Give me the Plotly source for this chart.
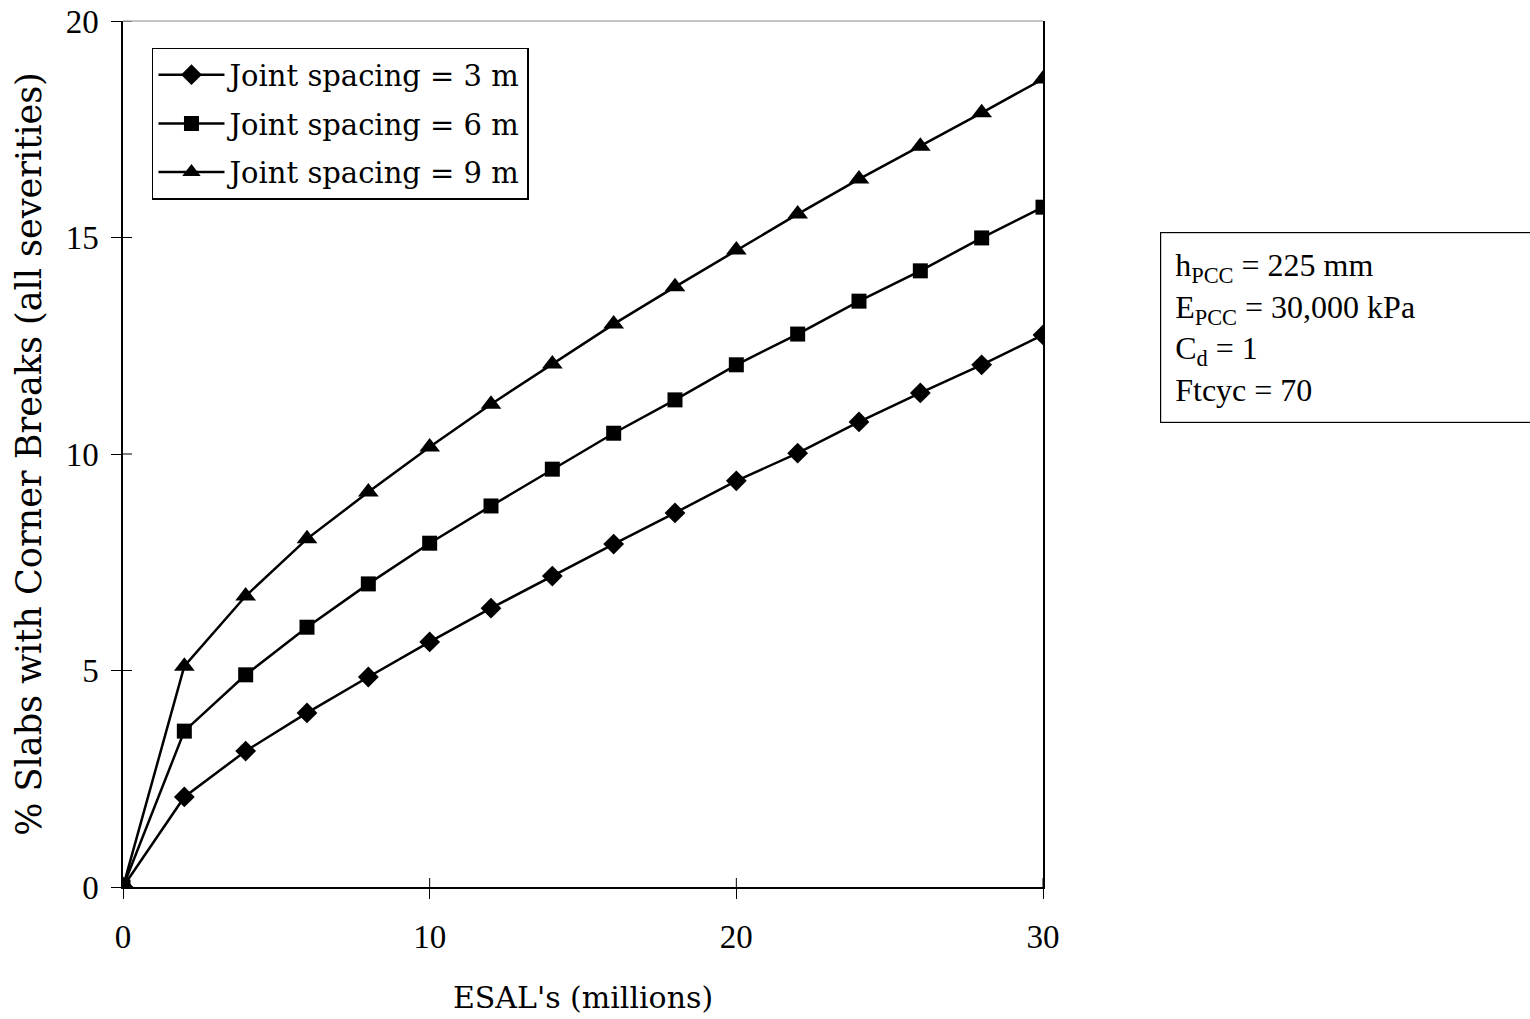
import plotly.graph_objects as go

esals = [0, 2, 4, 6, 8, 10, 12, 14, 16, 18, 20, 22, 24, 26, 28, 30]
js3 = [0, 2.08, 3.14, 4.02, 4.85, 5.66, 6.44, 7.18, 7.92, 8.64, 9.38, 10.02, 10.74, 11.41, 12.06, 12.75]
js6 = [0, 3.60, 4.90, 6.00, 7.00, 7.94, 8.80, 9.65, 10.48, 11.25, 12.06, 12.77, 13.53, 14.23, 14.99, 15.70]
js9 = [0, 5.10, 6.72, 8.04, 9.12, 10.16, 11.15, 12.08, 13.00, 13.86, 14.71, 15.54, 16.35, 17.11, 17.88, 18.66]
names = ["Joint spacing = 3 m", "Joint spacing = 6 m", "Joint spacing = 9 m"]
symbols = ["diamond", "square", "triangle-up"]
sizes = [16, 15, 18]
xticks = [0, 10, 20, 30]
yticks = [0, 5, 10, 15, 20]
note_lines = ["h<sub>PCC</sub> = 225 mm", "E<sub>PCC</sub> = 30,000 kPa", "C<sub>d</sub> = 1", "Ftcyc = 70"]

serif = "Liberation Serif, Times New Roman, serif"
wide = "DejaVu Serif, serif"

fig = go.Figure()
for i, ys in enumerate([js3, js6, js9]):
    fig.add_trace(go.Scatter(
        x=esals, y=ys, mode="lines+markers", name=names[i],
        legendgroup=str(i),
        line=dict(color="black", width=2.5),
        marker=dict(symbol=symbols[i], size=sizes[i], color="black"),
    ))

fig.update_layout(
    width=1530, height=1019,
    margin=dict(l=123, r=487, t=21, b=132),
    paper_bgcolor="white", plot_bgcolor="white",
    font=dict(family=serif, size=30, color="black"),
    showlegend=True,
    legend=dict(
        x=0.0315, y=0.969, xanchor="left", yanchor="top",
        bordercolor="black", borderwidth=1.5, bgcolor="white",
        font=dict(family=wide, size=29),
        traceorder="grouped", tracegroupgap=8,
        itemwidth=66,
    ),
    xaxis=dict(
        range=[0, 30], tickvals=xticks, ticks="outside", ticklen=10,
        tickcolor="black", tickwidth=1, showgrid=False, zeroline=False,
        showline=True, linecolor="black", linewidth=1.5,
        tickfont=dict(family=serif, size=33), automargin=False,
        ticklabelstandoff=10, ticklabeloverflow="allow",
        title=dict(text="ESAL's (millions)", font=dict(family=wide, size=30), standoff=33),
    ),
    yaxis=dict(
        range=[0, 20], tickvals=yticks, ticks="outside", ticklen=10,
        tickcolor="black", tickwidth=1, showgrid=False, zeroline=False,
        showline=True, linecolor="black", linewidth=1.5, mirror=True,
        tickfont=dict(family=serif, size=33), automargin=False,
        ticklabelstandoff=6, ticklabeloverflow="allow",
        title=dict(text="% Slabs with Corner Breaks (all severities)", font=dict(family=wide, size=35), standoff=13),
    ),
)

# inner half of the crossing tick marks
for tv in xticks:
    fig.add_shape(type="line", xref="x", yref="y", ysizemode="pixel", yanchor=0,
                  x0=tv, x1=tv, y0=0, y1=9, line=dict(color="black", width=1))
for tv in yticks:
    fig.add_shape(type="line", xref="x", yref="y", xsizemode="pixel", xanchor=0,
                  x0=0, x1=9, y0=tv, y1=tv, line=dict(color="black", width=1))

fig.add_shape(type="line", xref="paper", yref="paper", x0=0, x1=1, y0=1, y1=1,
              line=dict(color="#888888", width=1))

fig.add_annotation(
    xref="paper", yref="paper", x=1.127, y=0.756, xanchor="left", yanchor="top",
    text="<br>".join(note_lines), align="left", showarrow=False,
    font=dict(family=serif, size=32),
    bordercolor="black", borderwidth=1.2, borderpad=14, bgcolor="white",
    width=400,
)

fig.write_html("out.html", config={"displayModeBar": False},
               post_script="document.body.style.margin='0';document.body.style.overflow='hidden';")
